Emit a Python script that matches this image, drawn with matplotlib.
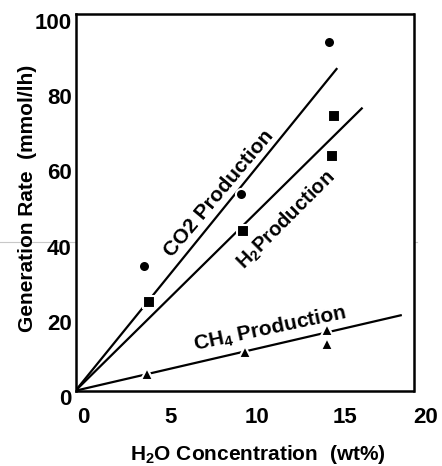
import matplotlib
matplotlib.use("Agg")
import matplotlib.pyplot as plt
from matplotlib.transforms import ScaledTranslation, blended_transform_factory
from matplotlib.lines import Line2D

plt.rcParams['font.family'] = ['Liberation Sans', 'DejaVu Sans']
plt.rcParams['font.weight'] = 'bold'
plt.rcParams['mathtext.fontset'] = 'custom'
plt.rcParams['mathtext.rm'] = 'Liberation Sans:bold'
plt.rcParams['mathtext.it'] = 'Liberation Sans:bold'
plt.rcParams['mathtext.bf'] = 'Liberation Sans:bold'
plt.rcParams['mathtext.default'] = 'rm'

# ---- data ----
co2_x = [3.9, 9.5, 14.5]
co2_y = [33.1, 52.3, 92.7]
h2_x = [4.2, 9.6, 14.8, 14.7]
h2_y = [23.6, 42.5, 73.0, 62.4]
ch4_x = [4.1, 9.7, 14.4, 14.4]
ch4_y = [4.4, 10.4, 16.2, 12.3]

co2_fit_x = [0, 15.0]
co2_fit_y = [0, 85.7]
h2_fit_x = [0, 16.45]
h2_fit_y = [0, 75.2]
ch4_fit_x = [0, 18.7]
ch4_fit_y = [0, 20.1]

x_ticks = [0, 5, 10, 15, 20]
y_ticks = [0, 20, 40, 60, 80, 100]

W, H = 442, 466
fig = plt.figure(figsize=(W / 100, H / 100), dpi=100)
ax = fig.add_axes([75.5 / W, 1 - 390.7 / H, 338 / W, 376.4 / H])
ax.set_xlim(0, 19.37)
ax.set_ylim(0, 100)
ax.set_xticks([])
ax.set_yticks([])
for s in ax.spines.values():
    s.set_linewidth(1.8)
    s.set_color('black')

lw = 1.6
ax.plot(co2_fit_x, co2_fit_y, color='black', lw=lw, zorder=2, solid_capstyle='butt')
ax.plot(h2_fit_x, h2_fit_y, color='black', lw=lw, zorder=2, solid_capstyle='butt')
ax.plot(ch4_fit_x, ch4_fit_y, color='black', lw=lw, zorder=2, solid_capstyle='butt')

ax.plot(co2_x, co2_y, ls='none', marker='o', ms=8, mfc='black', mec='white', mew=1.5, zorder=3)
ax.plot(h2_x, h2_y, ls='none', marker='s', ms=9, mfc='black', mec='white', mew=1.5, zorder=3)
ax.plot(ch4_x, ch4_y, ls='none', marker='^', ms=8.5, mfc='black', mec='white', mew=1.5, zorder=3)

# in-plot labels
ax.text(8.2, 52.3, 'CO2 Production', rotation=50, rotation_mode='anchor',
        ha='center', va='center', fontsize=15, fontweight='bold', zorder=4)
ax.text(12.06, 45.3, 'H$_2$Production', rotation=45, rotation_mode='anchor',
        ha='center', va='center', fontsize=14.5, fontweight='bold', zorder=4)
ax.text(11.15, 16.5, 'CH$_4$ Production', rotation=12, rotation_mode='anchor',
        ha='center', va='center', fontsize=15, fontweight='bold', zorder=4)

# tick labels (offset like the scanned original)
xt = blended_transform_factory(ax.transData, ax.transAxes) + ScaledTranslation(7.5 / 100, -27 / 100, fig.dpi_scale_trans)
for v in x_ticks:
    t = ax.text(v, 0, str(v), transform=xt, ha='center', va='center', fontsize=16,
                fontweight='bold', clip_on=False)
    if v == x_ticks[-1]:
        t.set_ha('right')
        t.set_transform(xt + ScaledTranslation(6 / 100, 0, fig.dpi_scale_trans))
yt = blended_transform_factory(ax.transAxes, ax.transData) + ScaledTranslation(-4 / 100, -9 / 100, fig.dpi_scale_trans)
for v in y_ticks:
    ax.text(0, v, str(v), transform=yt, ha='right', va='center', fontsize=16,
            fontweight='bold', clip_on=False)

fig.text(257.5 / W, 1 - 460.5 / H, 'H$_2$O Concentration  (wt%)', ha='center', va='baseline',
         fontsize=15, fontweight='bold')
fig.text(32.7 / W, 1 - 198.5 / H, 'Generation Rate  (mmol/lh)', rotation=90,
         rotation_mode='anchor', ha='center', va='baseline', fontsize=15, fontweight='bold')

# faint scan artifact line
for x0, x1 in [(0, 95), (280, 300), (337, 362), (373, 387), (398, 417)]:
    fig.add_artist(Line2D([x0 / W, x1 / W], [1 - 242 / H, 1 - 242 / H], color='#c8c8c8',
                          lw=0.8, transform=fig.transFigure, zorder=0))

fig.savefig('out.png', dpi=100)
